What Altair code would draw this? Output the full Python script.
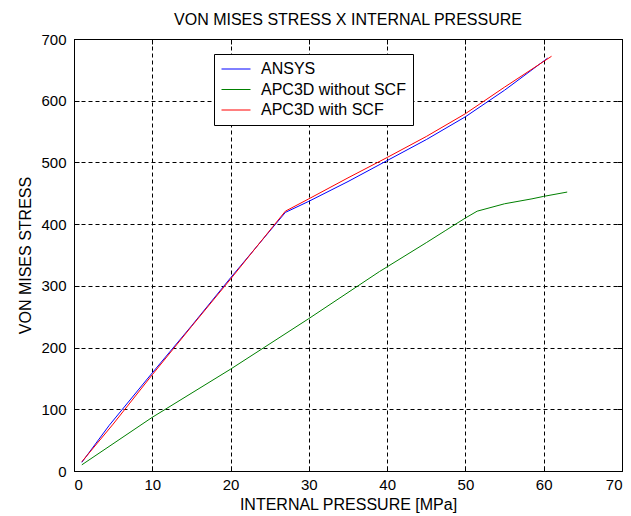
import altair as alt
import pandas as pd

FONT = "Liberation Sans, Arial, sans-serif"

series_names = ["ANSYS", "APC3D without SCF", "APC3D with SCF"]
series_colors = ["#0000ff", "#008000", "#ff0000"]

pressure_ansys = [1, 4.5, 10, 15, 20, 27, 30, 35, 40, 45, 50, 55, 60.5]
stress_ansys = [14, 74, 159, 235, 313, 419, 437, 469, 503, 537, 574, 617, 669]

pressure_without = [1, 10, 20, 30, 39, 45, 47.5, 50, 51.5, 55, 58.5, 60, 63]
stress_without = [10, 87, 165, 247, 323, 370, 390, 410, 421, 433, 441, 445, 452]

pressure_with = [1, 5, 10, 15, 20, 25.4, 27, 30, 35, 40, 45, 50, 55, 61]
stress_with = [15, 76, 156, 234, 311, 396, 421, 441, 475, 508, 542, 579, 622, 672]

x_ticks = [0, 10, 20, 30, 40, 50, 60, 70]
y_ticks = [0, 100, 200, 300, 400, 500, 600, 700]

rows = []
for name, xs, ys in [
    (series_names[0], pressure_ansys, stress_ansys),
    (series_names[1], pressure_without, stress_without),
    (series_names[2], pressure_with, stress_with),
]:
    for xv, yv in zip(xs, ys):
        rows.append({"pressure": xv, "stress": yv, "series": name})
df = pd.DataFrame(rows)

x_scale = alt.Scale(domain=[0, 70], nice=False, zero=False)
y_scale = alt.Scale(domain=[0, 700], nice=False, zero=False)

base = alt.Chart(df)

lines = base.mark_line(strokeWidth=1, clip=True).encode(
    x=alt.X(
        "pressure:Q",
        scale=x_scale,
        axis=alt.Axis(
            orient="bottom", values=x_ticks, grid=True, gridDash=[4, 3],
            gridColor="black", gridOpacity=1, gridWidth=1, domain=False,
            ticks=False, tickSize=0, labelPadding=6, labelFontSize=15,
            labelColor="black", labelFont=FONT,
            title="INTERNAL PRESSURE [MPa]", titleFontSize=16,
            titleFontWeight="normal", titleFont=FONT, titleColor="black",
            titlePadding=4,
        ),
    ),
    y=alt.Y(
        "stress:Q",
        scale=y_scale,
        axis=alt.Axis(
            orient="left", values=y_ticks, grid=True, gridDash=[4, 3],
            gridColor="black", gridOpacity=1, gridWidth=1, domain=False,
            ticks=False, tickSize=0, labelPadding=8, labelFontSize=15,
            labelColor="black", labelFont=FONT,
            title="VON MISES STRESS", titleFontSize=16,
            titleFontWeight="normal", titleFont=FONT, titleColor="black",
            titlePadding=7,
        ),
    ),
    color=alt.Color(
        "series:N",
        scale=alt.Scale(domain=series_names, range=series_colors),
        legend=alt.Legend(
            title=None, orient="none", legendX=140, legendY=15,
            symbolType="stroke", symbolSize=841, symbolStrokeWidth=1,
            labelFontSize=16, labelFont=FONT, labelColor="black",
            labelOffset=10, labelLimit=400, clipHeight=16,
            fillColor="white", strokeColor="black", padding=7, rowPadding=4.5,
        ),
    ),
)


def tick_axis(orient):
    return alt.Axis(
        orient=orient, offset=-5, tickSize=5, ticks=True, tickColor="black",
        tickWidth=1, labels=False, domain=False, grid=False, title=None,
        values=x_ticks if orient in ("top", "bottom") else y_ticks,
    )


ticks_bl = base.mark_point(opacity=0).encode(
    x=alt.X("pressure:Q", scale=x_scale, axis=tick_axis("bottom")),
    y=alt.Y("stress:Q", scale=y_scale, axis=tick_axis("left")),
)
ticks_tr = base.mark_point(opacity=0).encode(
    x=alt.X("pressure:Q", scale=x_scale, axis=tick_axis("top")),
    y=alt.Y("stress:Q", scale=y_scale, axis=tick_axis("right")),
)

chart = (
    alt.layer(lines, ticks_bl, ticks_tr)
    .resolve_axis(x="independent", y="independent")
    .properties(
        width=548,
        height=432,
        title=alt.TitleParams(
            "VON MISES STRESS X INTERNAL PRESSURE", fontSize=16,
            fontWeight="normal", font=FONT, color="black", anchor="middle",
            offset=4,
        ),
        autosize=alt.AutoSizeParams(type="none"),
        padding={"left": 74, "top": 39, "right": 9, "bottom": 45},
        background="white",
    )
    .configure_view(stroke="black", strokeWidth=1)
)

chart.save("out.html", embed_options={"renderer": "svg", "actions": False})
